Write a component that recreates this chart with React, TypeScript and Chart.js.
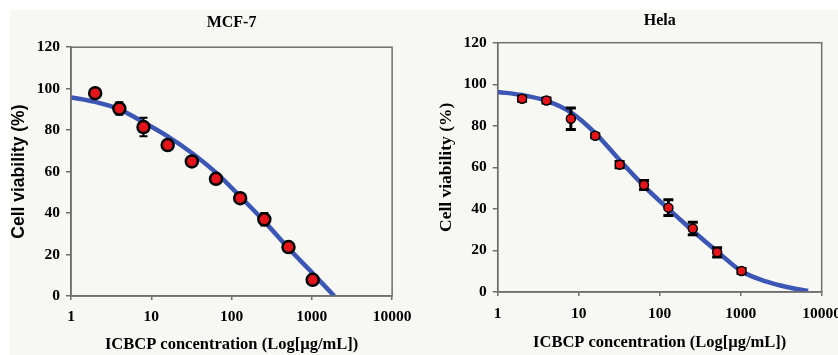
import React, { useEffect, useRef } from "react";
import { Chart, registerables } from "chart.js";

Chart.register(...registerables);

// ---- data ----
const doses = [2, 4, 8, 16, 32, 64, 128, 256, 512, 1024];
const xTickValues = [1, 10, 100, 1000, 10000];

const mcfViability = [97.8, 90.4, 81.5, 72.8, 64.9, 56.5, 47.2, 37.0, 23.6, 7.8];
const mcfError = [1.2, 3.0, 4.5, 2.0, 1.5, 1.5, 1.5, 3.0, 1.5, 1.0];
const mcfFitDose = [1, 2, 4, 8, 16, 32, 64, 128, 256, 512, 1024, 1900];
const mcfFitViability = [95.8, 93.6, 90, 83.8, 77, 69, 59.5, 48, 36, 23, 11, 0];

const helaViability = [93.0, 92.2, 83.4, 75.2, 61.3, 51.5, 40.6, 30.6, 19.1, 10.1];
const helaError = [1.2, 1.2, 5.2, 1.0, 1.5, 2.2, 3.8, 3.0, 2.2, 1.2];
const helaFitDose = [1, 2, 4, 8, 16, 32, 64, 128, 256, 512, 1024, 2048, 3700, 6800];
const helaFitViability = [96.3, 94.8, 92, 86.5, 76.5, 63.5, 51, 40, 29.5, 19.5, 10, 5.1, 2.4, 0.5];

const SERIF = '"Liberation Serif", "Times New Roman", serif';
const SANS = '"Liberation Sans", Arial, sans-serif';
const AXIS_COLOR = "#6f6f6f";
const LINE_COLOR = "#3b56b5";
const RED = "#e5141b";

const errorBarPlugin = {
  id: "errorBars",
  beforeDatasetDraw(chart: any, args: any) {
    const ds = chart.data.datasets[args.index];
    if (!ds.errors) return;
    const xs = chart.scales.x;
    const ys = chart.scales.y;
    const ctx = chart.ctx;
    ctx.save();
    ctx.strokeStyle = "#000";
    ctx.lineWidth = ds.errorWidth;
    ds.data.forEach((p: any, i: number) => {
      const px = xs.getPixelForValue(p.x);
      const t = ys.getPixelForValue(p.y + ds.errors[i]);
      const b = ys.getPixelForValue(p.y - ds.errors[i]);
      const c = ds.capHalf;
      ctx.beginPath();
      ctx.moveTo(px, t);
      ctx.lineTo(px, b);
      ctx.moveTo(px - c, t);
      ctx.lineTo(px + c, t);
      ctx.moveTo(px - c, b);
      ctx.lineTo(px + c, b);
      ctx.stroke();
    });
    ctx.restore();
  },
};

const framePlugin = {
  id: "frame",
  afterDatasetsDraw(chart: any) {
    const a = chart.chartArea;
    const ctx = chart.ctx;
    ctx.save();
    ctx.strokeStyle = AXIS_COLOR;
    ctx.lineWidth = 1.5;
    ctx.strokeRect(a.left, a.top, a.right - a.left, a.bottom - a.top);
    ctx.restore();
  },
};

type PanelProps = {
  left: number;
  width: number;
  title: string;
  values: number[];
  errors: number[];
  fitDose: number[];
  fitValues: number[];
  yAxisWidth: number;
  xAxisHeight: number;
  padRight: number;
  titlePad: { top: number; bottom: number };
  yTitleFont: any;
  yTitlePad: number;
  xTitlePad: number;
  xTickPad: number;
  pointRadius: number;
  pointBorder: number;
  errorWidth: number;
  capHalf: number;
};

function Panel(p: PanelProps) {
  const ref = useRef<HTMLCanvasElement>(null);
  useEffect(() => {
    const canvas = ref.current!;
    const chart = new Chart(canvas, {
      type: "scatter",
      data: {
        datasets: [
          {
            type: "scatter",
            data: doses.map((d, i) => ({ x: d, y: p.values[i] })),
            backgroundColor: RED,
            borderColor: "#000",
            borderWidth: p.pointBorder,
            pointRadius: p.pointRadius,
            order: 1,
            errors: p.errors,
            errorWidth: p.errorWidth,
            capHalf: p.capHalf,
          } as any,
          {
            type: "line",
            data: p.fitDose.map((d, i) => ({ x: d, y: p.fitValues[i] })),
            borderColor: LINE_COLOR,
            borderWidth: 4.5,
            pointRadius: 0,
            showLine: true,
            cubicInterpolationMode: "monotone",
            fill: false,
            order: 2,
          } as any,
        ],
      },
      options: {
        responsive: false,
        animation: false,
        layout: { padding: { left: 0, right: p.padRight, top: 0, bottom: 0 } },
        plugins: {
          legend: { display: false },
          tooltip: { enabled: false },
          title: {
            display: true,
            text: p.title,
            fullSize: false,
            color: "#000",
            font: { family: SERIF, size: 16, weight: "bold", lineHeight: 1.2 },
            padding: p.titlePad,
          },
        },
        scales: {
          x: {
            type: "logarithmic",
            min: 1,
            max: 10000,
            afterBuildTicks: (s: any) => {
              s.ticks = xTickValues.map((v) => ({ value: v }));
            },
            afterFit: (s: any) => {
              s.height = p.xAxisHeight;
            },
            ticks: {
              color: "#000",
              font: { family: SERIF, size: 15.5, weight: "bold" },
              padding: p.xTickPad,
              maxRotation: 0,
              autoSkip: false,
              callback: (v: any) => String(v),
            },
            grid: {
              display: true,
              drawOnChartArea: false,
              drawTicks: true,
              tickLength: 4,
              color: AXIS_COLOR,
              lineWidth: 1.5,
            },
            border: { display: true, color: AXIS_COLOR, width: 1.5 },
            title: {
              display: true,
              text: "ICBCP concentration (Log[µg/mL])",
              color: "#000",
              font: { family: SERIF, size: 16.5, weight: "bold", lineHeight: 1.2 },
              padding: { top: 0, bottom: p.xTitlePad },
            },
          },
          y: {
            type: "linear",
            min: 0,
            max: 120,
            afterFit: (s: any) => {
              s.width = p.yAxisWidth;
            },
            ticks: {
              stepSize: 20,
              color: "#000",
              font: { family: SERIF, size: 15.5, weight: "bold" },
              padding: 6,
            },
            grid: {
              display: true,
              drawOnChartArea: false,
              drawTicks: true,
              tickLength: 5,
              color: AXIS_COLOR,
              lineWidth: 1.5,
            },
            border: { display: true, color: AXIS_COLOR, width: 1.5 },
            title: {
              display: true,
              text: "Cell viability (%)",
              color: "#000",
              font: p.yTitleFont,
              padding: { top: p.yTitlePad, bottom: 0 },
            },
          },
        },
      } as any,
      plugins: [errorBarPlugin, framePlugin],
    });
    return () => chart.destroy();
  }, []);
  return (
    <canvas
      ref={ref}
      width={p.width}
      height={355}
      style={{ position: "absolute", left: p.left, top: 0, width: p.width, height: 355 }}
    />
  );
}

export default function App() {
  return (
    <div
      style={{
        position: "absolute",
        left: 0,
        top: 0,
        width: 838,
        height: 355,
        overflow: "hidden",
        background: "#ffffff",
      }}
    >
      <div
        style={{
          position: "absolute",
          left: 10,
          top: 10,
          right: 0,
          bottom: 0,
          background: "#f7f7f3",
        }}
      />
      <Panel
        left={0}
        width={419}
        title="MCF-7"
        values={mcfViability}
        errors={mcfError}
        fitDose={mcfFitDose}
        fitValues={mcfFitViability}
        yAxisWidth={71}
        xAxisHeight={59}
        padRight={24}
        titlePad={{ top: 13, bottom: 15 }}
        yTitleFont={{ family: SANS, size: 17.5, weight: "bold", lineHeight: 1.2 }}
        yTitlePad={8.5}
        xTitlePad={0.5}
        xTickPad={7.5}
        pointRadius={6}
        pointBorder={2.5}
        errorWidth={2}
        capHalf={4}
      />
      <Panel
        left={419}
        width={440}
        title="Hela"
        values={helaViability}
        errors={helaError}
        fitDose={helaFitDose}
        fitValues={helaFitViability}
        yAxisWidth={78.7}
        xAxisHeight={63}
        padRight={37.3}
        titlePad={{ top: 11, bottom: 12.5 }}
        yTitleFont={{ family: SERIF, size: 17.5, weight: "bold", lineHeight: 1.2 }}
        yTitlePad={16.5}
        xTitlePad={2.5}
        xTickPad={8.5}
        pointRadius={4.5}
        pointBorder={1.5}
        errorWidth={3}
        capHalf={5}
      />
    </div>
  );
}
